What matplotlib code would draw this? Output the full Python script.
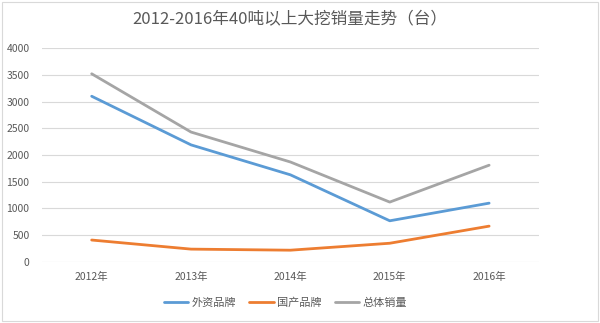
import matplotlib
matplotlib.use("Agg")
import matplotlib.pyplot as plt
from matplotlib.patches import Rectangle

plt.rcParams['font.family'] = ['Noto Sans CJK SC', 'DejaVu Sans']

years = ["2012年", "2013年", "2014年", "2015年", "2016年"]
foreign = [3100, 2190, 1630, 770, 1100]
domestic = [410, 240, 220, 350, 670]
total = [3520, 2430, 1870, 1120, 1810]

fig = plt.figure(figsize=(6, 3.23), dpi=100)
ax = fig.add_axes([0.07, 0.189, 0.828, 0.662])

x = range(len(years))
ax.plot(x, foreign, color="#5B9BD5", lw=2.0, label="外资品牌", solid_capstyle="round")
ax.plot(x, domestic, color="#ED7D31", lw=2.0, label="国产品牌", solid_capstyle="round")
ax.plot(x, total, color="#A5A5A5", lw=2.0, label="总体销量", solid_capstyle="round")

ax.set_xlim(-0.5, 4.5)
ax.set_ylim(0, 4000)
ax.set_yticks(range(0, 4001, 500))
ax.set_xticks(list(x))
ax.set_xticklabels(years)
ax.grid(axis="y", color="#D9D9D9", lw=0.8)
ax.set_axisbelow(True)
for s in ax.spines.values():
    s.set_visible(False)
ax.tick_params(length=0, labelsize=7.5, colors="#595959", pad=7)
ax.tick_params(axis="y", pad=9)

fig.text(0.483, 0.94, "2012-2016年40吨以上大挖销量走势（台）", ha="center", va="center",
         fontsize=12, color="#595959")

ax.legend(loc="upper center", bbox_to_anchor=(0.49, -0.12), ncol=3, frameon=False,
          fontsize=8, handlelength=2.2, columnspacing=1.2, handletextpad=0.3,
          labelcolor="#595959")

fig.patches.append(Rectangle((0.003, 0.006), 0.994, 0.988, transform=fig.transFigure,
                             fill=False, edgecolor="#D9D9D9", lw=0.8))

fig.savefig("out.png", dpi=100)
